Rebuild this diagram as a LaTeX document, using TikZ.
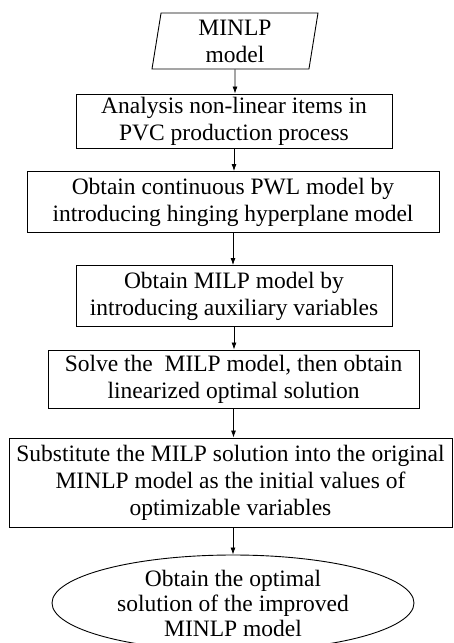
\documentclass[tikz,border=0pt]{standalone}
\usepackage{fontspec}
\setmainfont{Liberation Serif}
\usetikzlibrary{shapes.geometric,arrows.meta}

\begin{document}
\begin{tikzpicture}[x=1pt,y=-1pt,
	box/.style={draw, line width=0.9pt, rectangle, inner sep=0pt, align=center,
		font=\fontsize{23.5}{27}\selectfont},
	flow/.style={line width=0.8pt, -{Latex[length=7pt,width=5pt]}}]
	\useasboundingbox (0,0) rectangle (453,643);
	\node [box, trapezium, trapezium left angle=78, trapezium right angle=102,
		trapezium stretches body, minimum width=166, minimum height=56] (minlp) at (235,41) {MINLP\\model};
	\node [box, minimum width=316, minimum height=54] (items) at (234,121) {Analysis non-linear items in\\PVC production process};
	\node [box, minimum width=412, minimum height=61] (pwl) at (233,202) {Obtain continuous PWL model by\\introducing hinging hyperplane model};
	\node [box, minimum width=316, minimum height=61] (milp) at (234,296) {Obtain MILP model by\\introducing auxiliary variables};
	\node [box, minimum width=371, minimum height=58] (solve) at (233.5,379) {Solve the\ \ MILP model, then obtain\\linearized optimal solution};
	\node [box, minimum width=443, minimum height=89] (subst) at (230.5,482.5) {Substitute the MILP solution into the original\\MINLP model as the initial values of\\optimizable variables};
	\node [box, ellipse, minimum width=362, minimum height=96,
		font=\fontsize{23.5}{25}\selectfont] (optimal) at (233,603) {Obtain the optimal\\solution of the improved\\MINLP model};
	% connectors
	\draw [flow] (minlp) -- (minlp |- items.north);
	\draw [flow] (items) -- (items |- pwl.north);
	\draw [flow] (pwl) -- (pwl |- milp.north);
	\draw [flow] (milp) -- (milp |- solve.north);
	\draw [flow] (solve) -- (solve |- subst.north);
	\draw [flow] (optimal |- subst.south) -- (optimal);
\end{tikzpicture}
\end{document}
